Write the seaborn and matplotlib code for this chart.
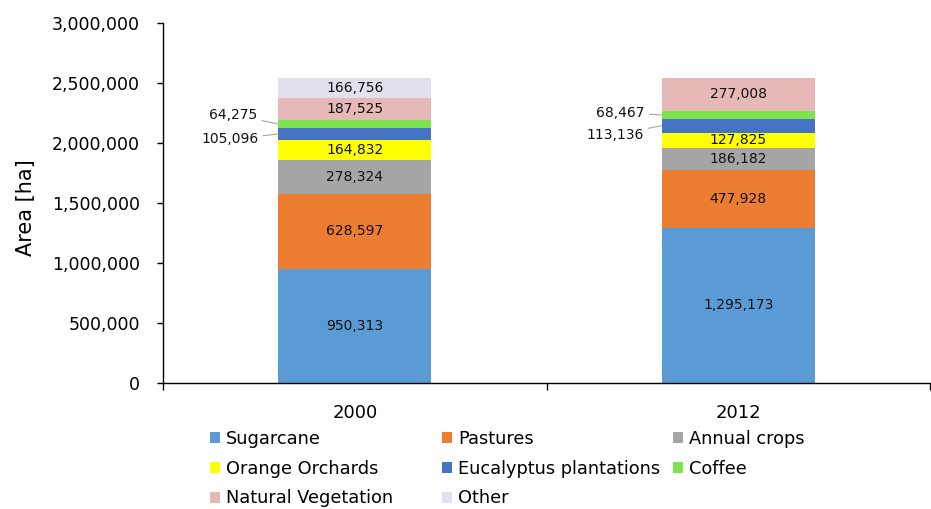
import matplotlib
matplotlib.use("Agg")
import matplotlib.pyplot as plt
from matplotlib.patches import Patch
from matplotlib.ticker import FuncFormatter, FixedLocator
import numpy as np
import pandas as pd
import seaborn as sns

years = ["2000", "2012"]
categories = ["Sugarcane", "Pastures", "Annual crops", "Orange Orchards",
              "Eucalyptus plantations", "Coffee", "Natural Vegetation", "Other"]
sugarcane = [950313, 1295173]
pastures = [628597, 477928]
annual_crops = [278324, 186182]
orange_orchards = [164832, 127825]
eucalyptus = [105096, 113136]
coffee = [64275, 68467]
natural_vegetation = [187525, 277008]
other = [166756, 0]

colors = ["#5B9BD5", "#ED7D31", "#A5A5A5", "#FFFF00",
          "#4472C4", "#7EE44E", "#E6B8B7", "#E4DFEC"]

series = [sugarcane, pastures, annual_crops, orange_orchards,
          eucalyptus, coffee, natural_vegetation, other]

sns.set_theme(style="white")
plt.rcParams["font.family"] = ["DejaVu Sans"]
plt.rcParams.update({"text.color": "black", "axes.labelcolor": "black",
                     "xtick.color": "black", "ytick.color": "black"})

fig = plt.figure(figsize=(9.31, 5.09), dpi=100)
ax = fig.add_axes([163 / 931, 126 / 509, 767 / 931, 360 / 509])

vals = np.array(series, dtype=float)          # shape (n_cat, n_years)
tops = np.cumsum(vals, axis=0)
bottoms = tops - vals

# Stacked bars: draw cumulative totals from the top layer down
for i in range(len(categories) - 1, -1, -1):
    df = pd.DataFrame({"year": years, "area": tops[i]})
    sns.barplot(data=df, x="year", y="area", color=colors[i], width=0.4,
                saturation=1, linewidth=0, ax=ax, order=years)

# Segment value labels (thin segments get a leader line to the left)
outside = {(5, 0): (-15, 6.5), (4, 0): (-14, -3.6),
           (5, 1): (-12, 1.4), (4, 1): (-13, -6.5)}
for i, name in enumerate(categories):
    for j in range(len(years)):
        v = vals[i, j]
        if v <= 0:
            continue
        mid = bottoms[i, j] + v / 2
        label = f"{int(v):,}"
        if (i, j) in outside:
            ax.annotate(label, xy=(j - 0.2, mid), xytext=outside[(i, j)],
                        textcoords="offset points", ha="right", va="center",
                        fontsize=10, color="#111111",
                        arrowprops=dict(arrowstyle="-", color="#A6A6A6",
                                        lw=0.8, shrinkA=1, shrinkB=0))
        else:
            ax.text(j, mid, label, ha="center", va="center",
                    fontsize=10, color="#111111")

ax.set_xlim(-0.5, 1.5)
ax.set_ylim(0, 3000000)
ax.yaxis.set_major_locator(FixedLocator(np.arange(0, 3000001, 500000)))
ax.yaxis.set_major_formatter(FuncFormatter(lambda v, p: f"{int(v):,}"))
ax.set_xlabel("")
ax.set_ylabel("Area [ha]", fontsize=15)
ax.yaxis.set_label_coords(-0.165, 0.487)

for s in ["top", "right"]:
    ax.spines[s].set_visible(False)
for s in ["left", "bottom"]:
    ax.spines[s].set_color("black")
    ax.spines[s].set_linewidth(1.0)

ax.tick_params(axis="y", which="major", direction="out", length=4.5,
               width=1, labelsize=12.5, left=True, pad=12)
ax.tick_params(axis="x", which="major", length=0, labelsize=13, pad=15)
ax.set_xticks([-0.5, 0.5, 1.5], minor=True)
ax.tick_params(axis="x", which="minor", direction="out", length=5,
               width=1, bottom=True)
ax.grid(False)

# Legend: three fixed-width columns, filled row by row
columns = [[0, 3, 6], [1, 4, 7], [2, 5]]
col_x = [210, 442, 673]
for xs, idx in zip(col_x, columns):
    handles = [Patch(facecolor=colors[k], edgecolor="none") for k in idx]
    labels = [categories[k] for k in idx]
    fig.legend(handles, labels, ncol=1, loc="upper left",
               bbox_to_anchor=(xs / 931, 1 - 430 / 509), frameon=False,
               fontsize=12.8, handlelength=0.55, handleheight=0.55,
               handletextpad=0.35, labelspacing=0.66,
               borderaxespad=0, borderpad=0)

fig.savefig("out.png", dpi=100)
